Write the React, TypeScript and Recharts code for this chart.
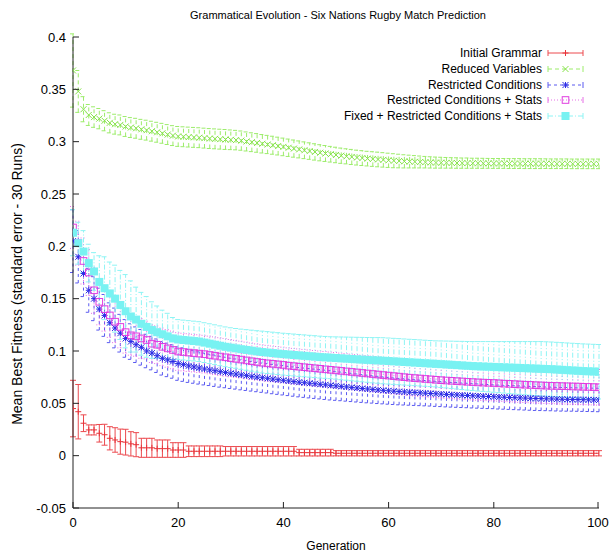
import React from 'react';
import { ComposedChart, Line, XAxis, YAxis, ErrorBar } from 'recharts';

const GENERATIONS = [
  0, 1, 2, 3, 4, 5, 6, 7, 8, 9,
  10, 11, 12, 13, 14, 15, 16, 17, 18, 19,
  20, 21, 22, 23, 24, 25, 26, 27, 28, 29,
  30, 31, 32, 33, 34, 35, 36, 37, 38, 39,
  40, 41, 42, 43, 44, 45, 46, 47, 48, 49,
  50, 51, 52, 53, 54, 55, 56, 57, 58, 59,
  60, 61, 62, 63, 64, 65, 66, 67, 68, 69,
  70, 71, 72, 73, 74, 75, 76, 77, 78, 79,
  80, 81, 82, 83, 84, 85, 86, 87, 88, 89,
  90, 91, 92, 93, 94, 95, 96, 97, 98, 99,
  100,
];

// Initial Grammar
const INITIAL_GRAMMAR = [
  0.045, 0.042, 0.031, 0.0246, 0.0246, 0.0214, 0.020, 0.0166, 0.015, 0.0134,
  0.0129, 0.0113, 0.0105, 0.0075, 0.0075, 0.0075, 0.0067, 0.0067, 0.0067, 0.0054,
  0.0054, 0.0054, 0.0042, 0.0042, 0.0042, 0.0042, 0.0042, 0.0042, 0.0042, 0.0042,
  0.0042, 0.0042, 0.0042, 0.0042, 0.0042, 0.0042, 0.0042, 0.0042, 0.0042, 0.0042,
  0.0042, 0.0042, 0.0042, 0.0029, 0.0029, 0.0029, 0.0029, 0.0029, 0.0029, 0.0029,
  0.0023, 0.0023, 0.0023, 0.0023, 0.0023, 0.0023, 0.0023, 0.0023, 0.0023, 0.0023,
  0.0023, 0.0023, 0.0023, 0.0023, 0.0023, 0.0023, 0.0023, 0.0023, 0.0023, 0.0023,
  0.0023, 0.0023, 0.0023, 0.0023, 0.0023, 0.0023, 0.0023, 0.0023, 0.0023, 0.0023,
  0.0023, 0.0023, 0.0023, 0.0023, 0.0023, 0.0023, 0.0023, 0.0023, 0.0023, 0.0023,
  0.0023, 0.0023, 0.0023, 0.0023, 0.0023, 0.0023, 0.0023, 0.0023, 0.0023, 0.0023,
  0.0023,
];
const INITIAL_GRAMMAR_ERR = [
  0.027, 0.026, 0.008, 0.0048, 0.0048, 0.0084, 0.010, 0.0111, 0.0117, 0.012,
  0.0123, 0.0116, 0.0115, 0.0091, 0.0091, 0.0091, 0.0083, 0.0083, 0.0083, 0.007,
  0.007, 0.007, 0.0051, 0.0051, 0.0051, 0.0051, 0.0051, 0.0051, 0.0051, 0.0045,
  0.0045, 0.0045, 0.0045, 0.0045, 0.0045, 0.0045, 0.0045, 0.0045, 0.0045, 0.0045,
  0.0045, 0.0045, 0.0045, 0.0032, 0.0032, 0.0032, 0.0032, 0.0032, 0.0032, 0.0032,
  0.0025, 0.0025, 0.0025, 0.0025, 0.0025, 0.0025, 0.0025, 0.0025, 0.0025, 0.0025,
  0.0025, 0.0025, 0.0025, 0.0025, 0.0025, 0.0025, 0.0025, 0.0025, 0.0025, 0.0025,
  0.0025, 0.0025, 0.0025, 0.0025, 0.0025, 0.0025, 0.0025, 0.0025, 0.0025, 0.0025,
  0.0025, 0.0025, 0.0025, 0.0025, 0.0025, 0.0025, 0.0025, 0.0025, 0.0025, 0.0025,
  0.0025, 0.0025, 0.0025, 0.0025, 0.0025, 0.0025, 0.0025, 0.0025, 0.0025, 0.0025,
  0.0025,
];

// Reduced Variables
const REDUCED_VARIABLES = [
  0.368, 0.348, 0.331, 0.3255, 0.3235, 0.322, 0.320, 0.318, 0.3167, 0.316,
  0.3145, 0.3135, 0.3128, 0.3118, 0.311, 0.310, 0.309, 0.308, 0.3068, 0.3058,
  0.305, 0.3047, 0.3044, 0.3041, 0.3038, 0.3034, 0.303, 0.3027, 0.3024, 0.3021,
  0.3018, 0.3015, 0.301, 0.3002, 0.2995, 0.2988, 0.298, 0.2973, 0.2966, 0.2958,
  0.295, 0.2942, 0.2934, 0.2926, 0.2918, 0.291, 0.2902, 0.2894, 0.2887, 0.288,
  0.2873, 0.2866, 0.286, 0.2854, 0.2848, 0.2843, 0.2838, 0.2834, 0.283, 0.2826,
  0.2822, 0.2818, 0.2815, 0.2812, 0.281, 0.2808, 0.2806, 0.2804, 0.2802, 0.28,
  0.2799, 0.2798, 0.2797, 0.2796, 0.2795, 0.2795, 0.2794, 0.2794, 0.2793, 0.2793,
  0.2792, 0.2792, 0.2792, 0.2791, 0.2791, 0.2791, 0.279, 0.279, 0.279, 0.279,
  0.279, 0.2789, 0.2789, 0.2789, 0.2789, 0.2788, 0.2788, 0.2788, 0.2788, 0.2788,
  0.2788,
];
const REDUCED_VARIABLES_ERR = [
  0.035, 0.02, 0.012, 0.01, 0.0098, 0.0097, 0.0096, 0.0096, 0.0095, 0.0095,
  0.0095, 0.0095, 0.0095, 0.0095, 0.0095, 0.0095, 0.0095, 0.0095, 0.0095, 0.0095,
  0.0095, 0.0095, 0.0095, 0.0095, 0.0095, 0.0095, 0.0095, 0.0095, 0.0095, 0.0095,
  0.0094, 0.0093, 0.0092, 0.0091, 0.009, 0.0089, 0.0088, 0.0087, 0.0086, 0.0085,
  0.0084, 0.0083, 0.0082, 0.0081, 0.008, 0.0079, 0.0078, 0.0077, 0.0076, 0.0075,
  0.0074, 0.0073, 0.0072, 0.0072, 0.0071, 0.0071, 0.007, 0.007, 0.007, 0.0069,
  0.0068, 0.0067, 0.0065, 0.0063, 0.0061, 0.0059, 0.0057, 0.0055, 0.0054, 0.0053,
  0.0052, 0.0051, 0.005, 0.005, 0.0049, 0.0049, 0.0048, 0.0048, 0.0048, 0.0047,
  0.0047, 0.0047, 0.0047, 0.0047, 0.0047, 0.0047, 0.0047, 0.0047, 0.0047, 0.0047,
  0.0046, 0.0046, 0.0046, 0.0046, 0.0046, 0.0046, 0.0046, 0.0046, 0.0046, 0.0046,
  0.0046,
];

// Restricted Conditions
const RESTRICTED = [
  0.205, 0.190, 0.174, 0.158, 0.150, 0.140, 0.134, 0.127, 0.122, 0.117,
  0.112, 0.109, 0.106, 0.1035, 0.100, 0.098, 0.0955, 0.093, 0.0915, 0.090,
  0.088, 0.087, 0.0858, 0.0848, 0.0838, 0.0828, 0.082, 0.0812, 0.0803, 0.0795,
  0.0787, 0.078, 0.0772, 0.0765, 0.0758, 0.0751, 0.0745, 0.0739, 0.0732, 0.0726,
  0.072, 0.0714, 0.0708, 0.0702, 0.0697, 0.0692, 0.0687, 0.0682, 0.0677, 0.0672,
  0.0667, 0.0662, 0.0657, 0.0652, 0.0647, 0.0642, 0.0637, 0.0633, 0.0628, 0.0624,
  0.062, 0.0616, 0.0612, 0.0609, 0.0606, 0.0603, 0.06, 0.0597, 0.0594, 0.0591,
  0.0588, 0.0585, 0.0582, 0.058, 0.0577, 0.0575, 0.0572, 0.057, 0.0567, 0.0565,
  0.0563, 0.056, 0.0558, 0.0556, 0.0554, 0.0552, 0.055, 0.0548, 0.0546, 0.0545,
  0.0543, 0.0542, 0.054, 0.0539, 0.0538, 0.0537, 0.0536, 0.0535, 0.0534, 0.0533,
  0.0532,
];
const RESTRICTED_ERR = [
  0.03, 0.025, 0.022, 0.021, 0.021, 0.02, 0.02, 0.019, 0.019, 0.018,
  0.018, 0.017, 0.017, 0.017, 0.016, 0.016, 0.016, 0.016, 0.016, 0.016,
  0.016, 0.016, 0.0158, 0.0156, 0.0154, 0.0152, 0.015, 0.015, 0.0148, 0.0146,
  0.0145, 0.0144, 0.0143, 0.0142, 0.0141, 0.014, 0.014, 0.014, 0.014, 0.014,
  0.014, 0.014, 0.014, 0.014, 0.014, 0.014, 0.014, 0.014, 0.014, 0.014,
  0.0138, 0.0137, 0.0136, 0.0135, 0.0134, 0.0133, 0.0132, 0.0131, 0.013, 0.0129,
  0.0128, 0.0127, 0.0126, 0.0125, 0.0124, 0.0123, 0.0122, 0.0121, 0.012, 0.012,
  0.0119, 0.0119, 0.0118, 0.0118, 0.0117, 0.0117, 0.0116, 0.0116, 0.0115, 0.0115,
  0.0114, 0.0114, 0.0114, 0.0114, 0.0114, 0.0114, 0.0114, 0.0114, 0.0114, 0.0114,
  0.0113, 0.0113, 0.0113, 0.0113, 0.0113, 0.0112, 0.0112, 0.0112, 0.0112, 0.0112,
  0.0112,
];

// Restricted Conditions + Stats
const RESTRICTED_STATS = [
  0.218, 0.203, 0.186, 0.175, 0.158, 0.147, 0.140, 0.134, 0.128, 0.123,
  0.118, 0.115, 0.114, 0.112, 0.1105, 0.107, 0.106, 0.104, 0.1025, 0.101,
  0.0995, 0.099, 0.0985, 0.098, 0.0975, 0.097, 0.0962, 0.0955, 0.0947, 0.094,
  0.0932, 0.0925, 0.0918, 0.091, 0.0902, 0.0895, 0.0888, 0.0882, 0.0877, 0.0872,
  0.0867, 0.086, 0.0855, 0.085, 0.0845, 0.084, 0.0835, 0.083, 0.0825, 0.082,
  0.0815, 0.081, 0.0805, 0.08, 0.0795, 0.079, 0.0785, 0.078, 0.0775, 0.077,
  0.0765, 0.076, 0.0755, 0.075, 0.0745, 0.0741, 0.0737, 0.0733, 0.0729, 0.0725,
  0.0721, 0.0718, 0.0715, 0.0712, 0.0709, 0.0706, 0.0703, 0.07, 0.0698, 0.0696,
  0.0694, 0.0691, 0.0688, 0.0686, 0.0683, 0.068, 0.0678, 0.0676, 0.0673, 0.0671,
  0.0669, 0.0667, 0.0666, 0.0664, 0.0663, 0.0661, 0.066, 0.0658, 0.0657, 0.0655,
  0.0653,
];
const RESTRICTED_STATS_ERR = [
  0.02, 0.021, 0.022, 0.022, 0.022, 0.022, 0.021, 0.021, 0.02, 0.02,
  0.02, 0.019, 0.019, 0.019, 0.018, 0.018, 0.018, 0.018, 0.018, 0.018,
  0.018, 0.018, 0.018, 0.018, 0.018, 0.018, 0.018, 0.018, 0.018, 0.018,
  0.0178, 0.0177, 0.0176, 0.0175, 0.0174, 0.0173, 0.0172, 0.0172, 0.0171, 0.0171,
  0.017, 0.017, 0.017, 0.017, 0.017, 0.017, 0.017, 0.017, 0.017, 0.017,
  0.017, 0.017, 0.017, 0.017, 0.017, 0.017, 0.017, 0.017, 0.017, 0.017,
  0.017, 0.017, 0.017, 0.017, 0.017, 0.017, 0.017, 0.017, 0.017, 0.017,
  0.017, 0.017, 0.017, 0.017, 0.017, 0.017, 0.017, 0.017, 0.017, 0.017,
  0.017, 0.017, 0.017, 0.017, 0.017, 0.017, 0.017, 0.017, 0.017, 0.017,
  0.017, 0.017, 0.017, 0.017, 0.017, 0.017, 0.017, 0.017, 0.017, 0.017,
  0.017,
];

// Fixed + Restricted Conditions + Stats
const FIXED_RESTRICTED_STATS = [
  0.213, 0.203, 0.195, 0.184, 0.176, 0.166, 0.160, 0.155, 0.150, 0.144,
  0.138, 0.133, 0.130, 0.126, 0.123, 0.120, 0.118, 0.116, 0.114, 0.112,
  0.111, 0.1105, 0.11, 0.1095, 0.109, 0.108, 0.107, 0.106, 0.105, 0.104,
  0.1032, 0.1025, 0.1017, 0.101, 0.1003, 0.0996, 0.099, 0.0985, 0.098, 0.0975,
  0.097, 0.0966, 0.0962, 0.0958, 0.0954, 0.095, 0.0946, 0.0942, 0.0939, 0.0936,
  0.0933, 0.093, 0.0927, 0.0924, 0.0921, 0.0918, 0.0915, 0.0912, 0.091, 0.0907,
  0.0904, 0.0901, 0.0898, 0.0895, 0.0892, 0.0889, 0.0886, 0.0883, 0.088, 0.0877,
  0.0874, 0.0871, 0.0868, 0.0865, 0.0862, 0.0859, 0.0856, 0.0854, 0.0852, 0.085,
  0.0848, 0.0846, 0.0844, 0.0842, 0.084, 0.0838, 0.0836, 0.0834, 0.0832, 0.083,
  0.0828, 0.0826, 0.0823, 0.082, 0.0817, 0.0814, 0.0811, 0.0808, 0.0806, 0.0804,
  0.0802,
];
const FIXED_RESTRICTED_STATS_ERR = [
  0.022, 0.02, 0.02, 0.018, 0.018, 0.025, 0.03, 0.03, 0.032, 0.033,
  0.035, 0.034, 0.031, 0.03, 0.029, 0.027, 0.025, 0.023, 0.022, 0.02,
  0.019, 0.019, 0.019, 0.019, 0.019, 0.019, 0.019, 0.019, 0.019, 0.019,
  0.019, 0.019, 0.0192, 0.0194, 0.0196, 0.0198, 0.02, 0.02, 0.02, 0.02,
  0.02, 0.02, 0.02, 0.02, 0.02, 0.02, 0.02, 0.02, 0.02, 0.02,
  0.0202, 0.0204, 0.0206, 0.0208, 0.021, 0.0212, 0.0214, 0.0216, 0.0218, 0.022,
  0.022, 0.022, 0.022, 0.022, 0.022, 0.022, 0.022, 0.022, 0.022, 0.022,
  0.0222, 0.0224, 0.0226, 0.0228, 0.023, 0.0232, 0.0234, 0.0236, 0.0238, 0.024,
  0.0242, 0.0244, 0.0246, 0.0248, 0.025, 0.0252, 0.0254, 0.0256, 0.0258, 0.026,
  0.026, 0.026, 0.026, 0.026, 0.026, 0.026, 0.026, 0.026, 0.026, 0.026,
  0.026,
];

const X_TICKS = [0, 20, 40, 60, 80, 100];
const Y_TICKS = [-0.05, 0, 0.05, 0.1, 0.15, 0.2, 0.25, 0.3, 0.35, 0.4];

const data = GENERATIONS.map((gen, i) => ({
  gen,
  ig: INITIAL_GRAMMAR[i],
  igErr: INITIAL_GRAMMAR_ERR[i],
  rv: REDUCED_VARIABLES[i],
  rvErr: REDUCED_VARIABLES_ERR[i],
  rc: RESTRICTED[i],
  rcErr: RESTRICTED_ERR[i],
  rcs: RESTRICTED_STATS[i],
  rcsErr: RESTRICTED_STATS_ERR[i],
  frcs: FIXED_RESTRICTED_STATS[i],
  frcsErr: FIXED_RESTRICTED_STATS_ERR[i],
}));

const FONT = '"Liberation Sans", Arial, Helvetica, sans-serif';
const AXIS = '#222';

type Shape = 'plus' | 'cross' | 'star' | 'box' | 'fbox';

const marker = (shape: Shape, color: string, x: number, y: number, key?: string) => {
  const s = 3;
  switch (shape) {
    case 'plus':
      return <path key={key} d={`M${x - s},${y}h${2 * s}M${x},${y - s}v${2 * s}`} stroke={color} fill="none" />;
    case 'cross':
      return <path key={key} d={`M${x - s},${y - s}l${2 * s},${2 * s}M${x - s},${y + s}l${2 * s},${-2 * s}`} stroke={color} fill="none" />;
    case 'star':
      return (
        <path
          key={key}
          d={`M${x - s},${y}h${2 * s}M${x},${y - s}v${2 * s}M${x - s},${y - s}l${2 * s},${2 * s}M${x - s},${y + s}l${2 * s},${-2 * s}`}
          stroke={color}
          fill="none"
        />
      );
    case 'box':
      return <rect key={key} x={x - 3.3} y={y - 3.3} width={6.6} height={6.6} stroke={color} fill="none" />;
    default:
      return <rect key={key} x={x - 4} y={y - 4} width={8} height={8} fill={color} />;
  }
};

const dotFor = (shape: Shape, color: string, name: string) => (p: any) =>
  p.cx == null || p.cy == null ? <g key={`${name}-${p.index}`} /> : marker(shape, color, p.cx, p.cy, `${name}-${p.index}`);

const SERIES = [
  { key: 'ig', name: 'Initial Grammar', shape: 'plus' as Shape, mark: '#e8343a', bar: '#ec4a4f', dash: undefined },
  { key: 'rv', name: 'Reduced Variables', shape: 'cross' as Shape, mark: '#86e34a', bar: '#9cec6a', dash: '4 3' },
  { key: 'rc', name: 'Restricted Conditions', shape: 'star' as Shape, mark: '#2b2be6', bar: '#5a5af0', dash: '3 3' },
  { key: 'rcs', name: 'Restricted Conditions + Stats', shape: 'box' as Shape, mark: '#e03ce0', bar: '#e66ee6', dash: '1 2' },
  { key: 'frcs', name: 'Fixed + Restricted Conditions + Stats', shape: 'fbox' as Shape, mark: '#78f2f2', bar: '#8ef4f4', dash: '5 2 1 2' },
];

const LeftTick = (p: any) => {
  const ax = p.x + 7;
  return (
    <g>
      <line x1={ax} x2={ax + 6} y1={p.y} y2={p.y} stroke={AXIS} />
      <text x={p.x} y={p.y} dy="0.35em" textAnchor="end" fontSize={13} fontFamily={FONT} fill="#000">
        {String(p.payload.value)}
      </text>
    </g>
  );
};

const RightTick = (p: any) => (
  <line x1={p.x} x2={p.x - 6} y1={p.y} y2={p.y} stroke={AXIS} />
);

const BottomTick = (p: any) => {
  const ay = p.y - 10;
  return (
    <g>
      <line x1={p.x} x2={p.x} y1={ay} y2={ay - 6} stroke={AXIS} />
      <text x={p.x} y={p.y} dy="0.71em" textAnchor="middle" fontSize={13} fontFamily={FONT} fill="#000">
        {String(p.payload.value)}
      </text>
    </g>
  );
};

const TopTick = (p: any) => (
  <line x1={p.x} x2={p.x} y1={p.y} y2={p.y + 6} stroke={AXIS} />
);

const LEGEND_ROWS = [53, 69, 85, 100, 116];

const App: React.FC = () => {
  return (
    <div style={{ position: 'absolute', left: 0, top: 0, width: 610, height: 557, background: '#fff' }}>
      <ComposedChart width={610} height={557} data={data} margin={{ top: 37, right: 11, bottom: 0, left: 0 }}>
        <XAxis
          dataKey="gen"
          type="number"
          domain={[0, 100]}
          ticks={X_TICKS}
          height={49}
          tickSize={0}
          tickMargin={10}
          tick={<BottomTick />}
          axisLine={{ stroke: AXIS }}
          tickLine={false}
          allowDataOverflow
        />
        <XAxis
          xAxisId="top"
          orientation="top"
          type="number"
          domain={[0, 100]}
          ticks={X_TICKS}
          height={0}
          tickSize={0}
          tickMargin={0}
          tick={<TopTick />}
          axisLine={{ stroke: AXIS }}
          tickLine={false}
          allowDataOverflow
        />
        <YAxis
          type="number"
          domain={[-0.05, 0.4]}
          ticks={Y_TICKS}
          width={73}
          tickSize={0}
          tickMargin={7}
          tick={<LeftTick />}
          axisLine={{ stroke: AXIS }}
          tickLine={false}
          allowDataOverflow
        />
        <YAxis
          yAxisId="right"
          orientation="right"
          type="number"
          domain={[-0.05, 0.4]}
          ticks={Y_TICKS}
          width={0}
          tickSize={0}
          tickMargin={0}
          tick={<RightTick />}
          axisLine={{ stroke: AXIS }}
          tickLine={false}
          allowDataOverflow
        />
        {SERIES.map((s) => (
          <Line
            key={s.key}
            dataKey={s.key}
            stroke="none"
            dot={dotFor(s.shape, s.mark, s.key)}
            activeDot={false}
            legendType="none"
            isAnimationActive={false}
          >
            <ErrorBar
              dataKey={`${s.key}Err`}
              width={3}
              stroke={s.bar}
              strokeWidth={1}
              strokeDasharray={s.dash}
              direction="y"
              isAnimationActive={false}
            />
          </Line>
        ))}
      </ComposedChart>

      <svg
        width={610}
        height={557}
        style={{ position: 'absolute', left: 0, top: 0, pointerEvents: 'none' }}
        fontFamily={FONT}
      >
        <text x={338} y={15} textAnchor="middle" dy="0.35em" fontSize={11} fill="#000">
          Grammatical Evolution - Six Nations Rugby Match Prediction
        </text>
        <text x={336} y={546} textAnchor="middle" dy="0.35em" fontSize={12} fill="#000">
          Generation
        </text>
        <text
          x={0}
          y={0}
          transform="translate(17,284) rotate(-90)"
          textAnchor="middle"
          dy="0.35em"
          fontSize={14}
          fill="#000"
        >
          Mean Best Fitness (standard error - 30 Runs)
        </text>
        {SERIES.map((s, i) => {
          const y = LEGEND_ROWS[i];
          return (
            <g key={s.key}>
              <text x={542} y={y} dy="0.35em" textAnchor="end" fontSize={12} fill="#000">
                {s.name}
              </text>
              <line x1={548} x2={583} y1={y} y2={y} stroke={s.bar} strokeDasharray={s.dash} />
              <line x1={548} x2={548} y1={y - 3} y2={y + 3} stroke={s.bar} />
              <line x1={583} x2={583} y1={y - 3} y2={y + 3} stroke={s.bar} />
              {marker(s.shape, s.mark, 565.5, y)}
            </g>
          );
        })}
      </svg>
    </div>
  );
};

export default App;
